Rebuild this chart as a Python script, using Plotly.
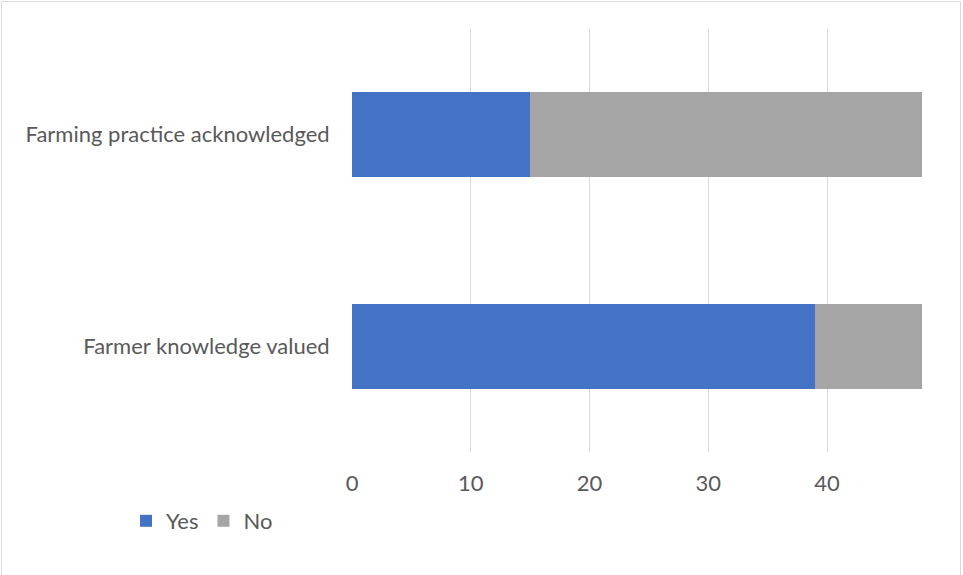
import plotly.graph_objects as go

categories = ["Farmer knowledge valued", "Farming practice acknowledged"]
yes_values = [39, 15]
no_values = [9, 33]
x_ticks = [0, 10, 20, 30, 40]

W, H = 963, 575
L, R, T, B = 352, 41, 29, 123
pw, ph = W - L - R, H - T - B

def px_to_paper_x(px):
    return (px - L) / pw

def px_to_paper_y(py):
    return (H - B - py) / ph

font_family = "Lato, 'Open Sans', sans-serif"
text_color = "#595959"
fsize = 22

fig = go.Figure()
fig.add_trace(go.Bar(
    y=categories, x=yes_values, name="Yes", orientation="h",
    marker=dict(color="#4472C4", line=dict(width=0)),
))
fig.add_trace(go.Bar(
    y=categories, x=no_values, name="No", orientation="h",
    marker=dict(color="#A5A5A5", line=dict(width=0)),
))

fig.update_layout(
    width=W, height=H,
    barmode="stack",
    bargap=0.6,
    margin=dict(l=L, r=R, t=T, b=B, pad=0),
    paper_bgcolor="white",
    plot_bgcolor="white",
    font=dict(family=font_family, size=fsize, color=text_color),
    xaxis=dict(
        range=[0, 48],
        tickvals=x_ticks,
        showgrid=True, gridcolor="#D9D9D9", gridwidth=1,
        zeroline=False, showline=False,
        ticks="outside", ticklen=0,
        ticklabelstandoff=12,
        tickfont=dict(size=fsize, color=text_color),
    ),
    yaxis=dict(
        showgrid=False, zeroline=False, showline=False,
        ticks="outside", ticklen=0,
        ticklabelstandoff=17,
        tickfont=dict(size=fsize, color=text_color),
    ),
    legend=dict(
        orientation="h",
        x=px_to_paper_x(126), xanchor="left",
        y=px_to_paper_y(521), yanchor="middle",
        font=dict(size=fsize, color=text_color),
        itemsizing="constant",
        itemwidth=30,
        traceorder="normal",
    ),
    showlegend=True,
    shapes=[dict(
        type="rect", xref="paper", yref="paper",
        x0=px_to_paper_x(1.5), x1=px_to_paper_x(960.5),
        y0=px_to_paper_y(1.5), y1=px_to_paper_y(590),
        line=dict(color="#D9D9D9", width=1),
        fillcolor="rgba(0,0,0,0)", layer="below",
    )],
)

fig.write_html("out.html")
